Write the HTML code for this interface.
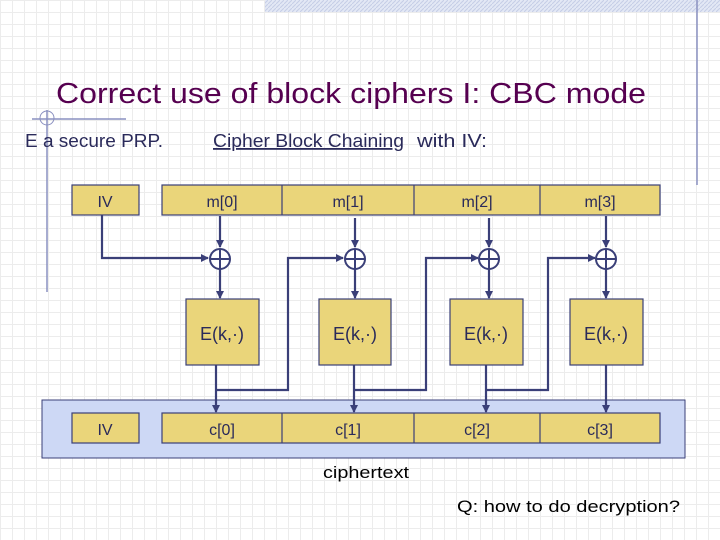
<!DOCTYPE html>
<html><head><style>
body{margin:0;width:720px;height:540px;overflow:hidden;background:#fff;
background-image:linear-gradient(#ececec 1px,transparent 1px),linear-gradient(90deg,#ececec 1px,transparent 1px);background-size:12px 12px;}
</style></head><body>
<svg width="720" height="540" style="position:absolute;left:0;top:0" font-family="Liberation Sans, sans-serif">
<defs>
<pattern id="h" width="4" height="4" patternUnits="userSpaceOnUse"><rect width="4" height="4" fill="#e3e8f5"/><path d="M0 4L4 0" stroke="#c5cde6" stroke-width="1"/></pattern>
<marker id="a" markerWidth="8" markerHeight="8" refX="7" refY="4" orient="auto" markerUnits="userSpaceOnUse"><path d="M0,0L8,4L0,8z" fill="#3a3f78"/></marker>
</defs>
<rect x="265" y="0" width="455" height="12" fill="url(#h)"/>
<line x1="697" y1="0" x2="697" y2="185" stroke="#8a90c0" stroke-width="1.5"/>
<line x1="47" y1="110" x2="47" y2="292" stroke="#8a90c0" stroke-width="1.5"/>
<line x1="32" y1="119" x2="126" y2="119" stroke="#8a90c0" stroke-width="1.5"/>
<circle cx="47" cy="118" r="7" fill="none" stroke="#8a90c0"/>
<text x="56" y="103" font-size="29" fill="#560050" textLength="590" lengthAdjust="spacingAndGlyphs">Correct use of block ciphers I:  CBC mode</text>
<text x="25" y="147" font-size="18" fill="#2a2a5a" textLength="138" lengthAdjust="spacingAndGlyphs">E a secure PRP.</text>
<text x="213" y="147" font-size="18" fill="#2a2a5a" text-decoration="underline" textLength="191" lengthAdjust="spacingAndGlyphs">Cipher Block Chaining</text>
<text x="417" y="147" font-size="18" fill="#2a2a5a" textLength="70" lengthAdjust="spacingAndGlyphs">with IV:</text>
<rect x="42" y="400" width="643" height="58" fill="#cdd8f5" stroke="#3a3f78" stroke-width="1"/>
<g fill="#ead57a" stroke="#3a3f78" stroke-width="1.2">
<rect x="72" y="185" width="67" height="30"/>
<rect x="162" y="185" width="498" height="30"/>
<rect x="72" y="413" width="67" height="30"/>
<rect x="162" y="413" width="498" height="30"/>
<rect x="186" y="299" width="73" height="66"/>
<rect x="319" y="299" width="72" height="66"/>
<rect x="450" y="299" width="73" height="66"/>
<rect x="570" y="299" width="73" height="66"/>
</g>
<g stroke="#3a3f78" stroke-width="1.2">
<line x1="282" y1="185" x2="282" y2="215"/><line x1="414" y1="185" x2="414" y2="215"/><line x1="540" y1="185" x2="540" y2="215"/>
<line x1="282" y1="413" x2="282" y2="443"/><line x1="414" y1="413" x2="414" y2="443"/><line x1="540" y1="413" x2="540" y2="443"/>
</g>
<g fill="none" stroke="#3a3f78" stroke-width="2.2">
<path d="M102 215V258H208" marker-end="url(#a)"/>
<path d="M220 216V247" marker-end="url(#a)"/>
<path d="M355 218V247" marker-end="url(#a)"/>
<path d="M489 218V247" marker-end="url(#a)"/>
<path d="M606 216V247" marker-end="url(#a)"/>
<path d="M220 269V298" marker-end="url(#a)"/>
<path d="M355 269V298" marker-end="url(#a)"/>
<path d="M489 269V298" marker-end="url(#a)"/>
<path d="M606 269V298" marker-end="url(#a)"/>
<path d="M216 365V412" marker-end="url(#a)"/>
<path d="M354 365V412" marker-end="url(#a)"/>
<path d="M486 365V412" marker-end="url(#a)"/>
<path d="M606 365V412" marker-end="url(#a)"/>
<path d="M216 390H288V258H343" marker-end="url(#a)"/>
<path d="M354 390H426V258H478" marker-end="url(#a)"/>
<path d="M486 390H548V258H595" marker-end="url(#a)"/>
</g>
<g fill="#fff" stroke="#3a3f78" stroke-width="2">
<circle cx="220" cy="259" r="10"/><path d="M210 259H230M220 249V269"/>
<circle cx="355" cy="259" r="10"/><path d="M345 259H365M355 249V269"/>
<circle cx="489" cy="259" r="10"/><path d="M479 259H499M489 249V269"/>
<circle cx="606" cy="259" r="10"/><path d="M596 259H616M606 249V269"/>
</g>
<g font-size="16" fill="#2a2a5a" text-anchor="middle">
<text x="105" y="207">IV</text><text x="222" y="207">m[0]</text><text x="348" y="207">m[1]</text><text x="477" y="207">m[2]</text><text x="600" y="207">m[3]</text>
<text x="105" y="435">IV</text><text x="222" y="435">c[0]</text><text x="348" y="435">c[1]</text><text x="477" y="435">c[2]</text><text x="600" y="435">c[3]</text>
<text x="222" y="340" font-size="18">E(k,·)</text><text x="355" y="340" font-size="18">E(k,·)</text><text x="486" y="340" font-size="18">E(k,·)</text><text x="606" y="340" font-size="18">E(k,·)</text>
</g>
<text x="323" y="478" font-size="17" fill="#000" textLength="86" lengthAdjust="spacingAndGlyphs">ciphertext</text>
<text x="457" y="512" font-size="17" fill="#000" textLength="223" lengthAdjust="spacingAndGlyphs">Q: how to do decryption?</text>
</svg>
</body></html>
